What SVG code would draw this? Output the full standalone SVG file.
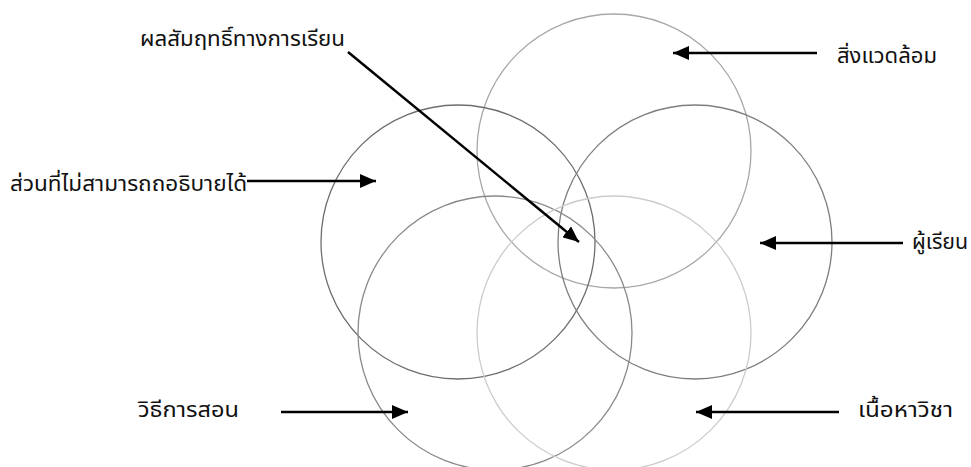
<svg xmlns="http://www.w3.org/2000/svg" width="971" height="467" viewBox="0 0 971 467">
<style>
  .c { fill: none; stroke-width: 1.3; }
  .lbl { font-family: "Noto Sans Thai", Tahoma, "Noto Sans", "DejaVu Sans", sans-serif; font-size: 21px; fill: #111; }
  .ar { stroke: #000; stroke-width: 2.5; fill: none; marker-end: url(#ah); }
</style>
<defs>
  <marker id="ah" viewBox="0 0 16 14" refX="16" refY="7" markerWidth="16" markerHeight="14" markerUnits="userSpaceOnUse" orient="auto">
    <path d="M0,0 L16,7 L0,14 Z" fill="#000"/>
  </marker>
</defs>
<rect width="971" height="467" fill="#fff"/>
<g id="node-environment"><circle class="c" cx="614" cy="151" r="137" stroke="#a8a8a8"/><text class="lbl" x="837" y="63" textLength="100" lengthAdjust="spacingAndGlyphs">สิ่งแวดล้อม</text></g>
<g id="node-unexplained"><circle class="c" cx="458" cy="242" r="137" stroke="#6e6e6e"/><text class="lbl" x="10" y="191" textLength="237" lengthAdjust="spacingAndGlyphs">ส่วนที่ไม่สามารถถอธิบายได้</text></g>
<g id="node-learner"><circle class="c" cx="695" cy="242" r="137" stroke="#7e7e7e"/><text class="lbl" x="912" y="249" textLength="56" lengthAdjust="spacingAndGlyphs">ผู้เรียน</text></g>
<g id="node-method"><circle class="c" cx="495" cy="333" r="137" stroke="#8a8a8a"/><text class="lbl" x="138" y="417" textLength="101" lengthAdjust="spacingAndGlyphs">วิธีการสอน</text></g>
<g id="node-content"><circle class="c" cx="614" cy="333" r="137" stroke="#cccccc"/><text class="lbl" x="858" y="417" textLength="95" lengthAdjust="spacingAndGlyphs">เนื้อหาวิชา</text></g>
<g id="node-achievement"><text class="lbl" x="140" y="46" textLength="205" lengthAdjust="spacingAndGlyphs">ผลสัมฤทธิ์ทางการเรียน</text></g>
<g id="connectors">
  <line class="ar" x1="348" y1="52" x2="579" y2="242"/>
  <line class="ar" x1="817" y1="53" x2="673" y2="53"/>
  <line class="ar" x1="247" y1="181" x2="376" y2="181"/>
  <line class="ar" x1="903" y1="243" x2="760" y2="243"/>
  <line class="ar" x1="281" y1="412" x2="408" y2="412"/>
  <line class="ar" x1="839" y1="412" x2="696" y2="412"/>
</g>
</svg>
